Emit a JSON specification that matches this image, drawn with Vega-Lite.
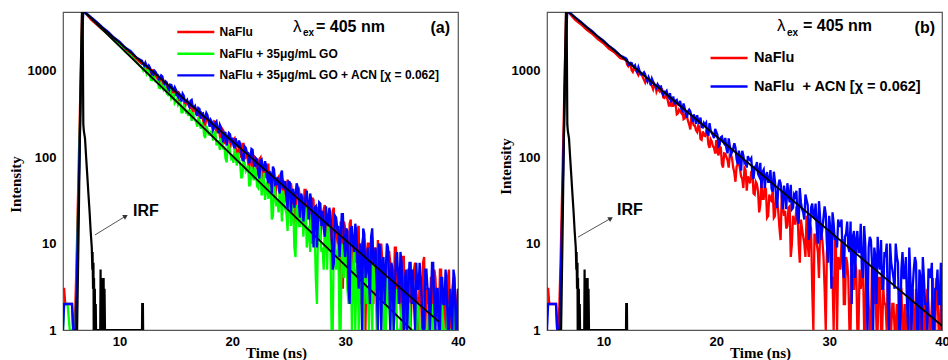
{
"$schema":"https://vega.github.io/schema/vega-lite/v6.json",
"background":"white",
"padding":{"left":7,"top":11,"right":0,"bottom":0},
"bounds":"flush",
"spacing":89,
"config":{"view":{"stroke":"#555","strokeWidth":1.2},"axis":{"grid":false,"domain":false,"ticks":false,"tickSize":0,"labelFont":"Liberation Sans","labelFontWeight":"bold","labelFontSize":13,"labelColor":"#000","labelFlush":false,"labelOverlap":false,"titleFont":"Liberation Serif","titleFontWeight":"bold","titleFontSize":15,"titleColor":"#000"}},
"datasets":{
"a":[
{"t":5.0,"r":3,"g":1,"b":1},{"t":5.1,"r":3,"g":2,"b":2},{"t":5.2,"r":2,"g":2,"b":2},{"t":5.4,"r":2,"g":2,"b":2},{"t":5.6,"r":2,"g":1,"b":2},{"t":5.8,"r":2,"g":1,"b":2},{"t":5.9,"r":1,"g":1,"b":1},{"t":6.0,"r":1,"g":1,"b":1},{"t":6.1,"r":2,"g":1,"b":1},{"t":6.2,"r":6,"g":4,"b":3},{"t":6.3,"r":23,"g":15,"b":12},{"t":6.4,"r":90,"g":60,"b":47},{"t":6.5,"r":350,"g":230,"b":180},{"t":6.6,"r":1350,"g":900,"b":700},{"t":6.7,"r":4800,"g":3500,"b":2700},{"t":6.8,"r":4900,"g":4900,"b":4900},{"t":6.9,"r":4800,"g":4800,"b":4850},{"t":7.0,"r":4650,"g":4700,"b":4720},
{"t":7.5,"r":3900,"g":4090,"b":4150},{"t":8.0,"r":3430,"g":3560,"b":3670},{"t":8.5,"r":3010,"g":3040,"b":3180},{"t":9.0,"r":2640,"g":2660,"b":2830},{"t":9.5,"r":2300,"g":2260,"b":2430},{"t":10.0,"r":2030,"g":1990,"b":2180},{"t":10.5,"r":1770,"g":1680,"b":1860},{"t":11.0,"r":1560,"g":1490,"b":1690},{"t":11.5,"r":1370,"g":1255,"b":1430},
{"t":12.0,"r":1201,"g":1084,"b":1310},{"t":12.2,"r":1215,"g":1117,"b":1151},{"t":12.4,"r":1039,"g":931,"b":1154},{"t":12.6,"r":1042,"g":943,"b":1154},{"t":12.8,"r":912,"g":784,"b":1002},
{"t":13.0,"r":1010,"g":870,"b":900},{"t":13.2,"r":863,"g":754,"b":971},{"t":13.4,"r":790,"g":759,"b":896},{"t":13.6,"r":829,"g":632,"b":823},{"t":13.8,"r":673,"g":650,"b":865},
{"t":14.0,"r":731,"g":668,"b":713},{"t":14.2,"r":670,"g":548,"b":733},{"t":14.4,"r":686,"g":558,"b":603},{"t":14.6,"r":550,"g":471,"b":687},{"t":14.8,"r":581,"g":548,"b":593},
{"t":15.0,"r":525,"g":449,"b":606},{"t":15.2,"r":571,"g":403,"b":501},{"t":15.4,"r":455,"g":437,"b":523},{"t":15.6,"r":491,"g":331,"b":544},{"t":15.8,"r":374,"g":377,"b":443},
{"t":16.0,"r":433,"g":340,"b":458},{"t":16.2,"r":386,"g":355,"b":384},{"t":16.4,"r":409,"g":264,"b":460},{"t":16.6,"r":376,"g":291,"b":374},{"t":16.8,"r":307,"g":256,"b":335},
{"t":17.0,"r":325,"g":292,"b":370},{"t":17.2,"r":341,"g":215,"b":279},{"t":17.4,"r":274,"g":245,"b":323},{"t":17.6,"r":233,"g":167,"b":291},{"t":17.8,"r":282,"g":211,"b":308},
{"t":18.0,"r":254,"g":182,"b":226},{"t":18.2,"r":227,"g":200,"b":255},{"t":18.4,"r":260,"g":179,"b":224},{"t":18.6,"r":190,"g":137,"b":260},{"t":18.8,"r":210,"g":152,"b":189},
{"t":19.0,"r":152,"g":166,"b":220},{"t":19.2,"r":204,"g":123,"b":149},{"t":19.4,"r":162,"g":97,"b":191},{"t":19.6,"r":177,"g":133,"b":165},{"t":19.8,"r":127,"g":116,"b":184},
{"t":20.0,"r":148,"g":101,"b":168},{"t":20.2,"r":165,"g":125,"b":127},{"t":20.4,"r":118,"g":80,"b":142},{"t":20.6,"r":131,"g":95,"b":156},{"t":20.8,"r":98,"g":57,"b":116},
{"t":21.0,"r":143,"g":95,"b":92},{"t":21.2,"r":103,"g":69,"b":128},{"t":21.4,"r":88,"g":80,"b":112},{"t":21.6,"r":111,"g":49,"b":98},{"t":21.8,"r":65,"g":63,"b":122},
{"t":22.0,"r":94,"g":76,"b":78},{"t":22.2,"r":82,"g":46,"b":94},{"t":22.4,"r":95,"g":57,"b":57},{"t":22.6,"r":54,"g":36,"b":94},{"t":22.8,"r":73,"g":66,"b":69},
{"t":23.0,"r":60,"g":42,"b":80},{"t":23.2,"r":82,"g":33,"b":50},{"t":23.4,"r":48,"g":49,"b":64},{"t":23.6,"r":66,"g":21,"b":78},{"t":23.8,"r":31,"g":40,"b":48},
{"t":24.0,"r":56,"g":33,"b":59},{"t":24.2,"r":45,"g":42,"b":38},{"t":24.4,"r":57,"g":18,"b":70},{"t":24.6,"r":50,"g":30,"b":44},{"t":24.8,"r":30,"g":22,"b":35},
{"t":25.0,"r":41,"g":37,"b":52},{"t":25.2,"r":50,"g":16,"b":23},{"t":25.4,"r":30,"g":28,"b":43},{"t":25.6,"r":19,"g":7,"b":36},{"t":25.8,"r":40,"g":23,"b":45},
{"t":26.0,"r":34,"g":16,"b":20},{"t":26.2,"r":28,"g":25,"b":34},{"t":26.4,"r":42,"g":21,"b":26},{"t":26.6,"r":19,"g":9,"b":41},{"t":26.8,"r":29,"g":16,"b":19},
{"t":27.0,"r":10,"g":22,"b":32},{"t":27.2,"r":32,"g":10,"b":9},{"t":27.4,"r":19,"g":4,"b":27},{"t":27.6,"r":26,"g":16,"b":20},{"t":27.8,"r":11,"g":13,"b":29},
{"t":28.0,"r":19,"g":9,"b":24},{"t":28.2,"r":28,"g":18,"b":12},{"t":28.4,"r":12,"g":5,"b":19},{"t":28.6,"r":19,"g":11,"b":26},{"t":28.8,"r":8,"g":1,"b":13},
{"t":29.0,"r":26,"g":13,"b":6},{"t":29.2,"r":13,"g":5,"b":20},{"t":29.4,"r":9,"g":10,"b":16},{"t":29.6,"r":18,"g":1,"b":12},{"t":29.8,"r":3,"g":7,"b":22},
{"t":30.0,"r":15,"g":11,"b":7},{"t":30.2,"r":11,"g":3,"b":14},{"t":30.4,"r":17,"g":7,"b":2},{"t":30.6,"r":3,"g":1,"b":16},{"t":30.8,"r":11,"g":10,"b":8},
{"t":31.0,"r":7,"g":4,"b":13},{"t":31.2,"r":16,"g":1,"b":3},{"t":31.4,"r":4,"g":7,"b":9},{"t":31.6,"r":12,"g":1,"b":15},{"t":31.8,"r":1,"g":5,"b":4},
{"t":32.0,"r":10,"g":3,"b":9},{"t":32.2,"r":6,"g":6,"b":2},{"t":32.4,"r":12,"g":1,"b":15},{"t":32.6,"r":9,"g":3,"b":6},{"t":32.8,"r":3,"g":1,"b":3},
{"t":33.0,"r":6,"g":5,"b":10},{"t":33.2,"r":10,"g":1,"b":1},{"t":33.4,"r":4,"g":4,"b":7},{"t":33.6,"r":1,"g":1,"b":5},{"t":33.8,"r":8,"g":3,"b":9},
{"t":34.0,"r":6,"g":1,"b":1},{"t":34.2,"r":4,"g":3,"b":5},{"t":34.4,"r":9,"g":2,"b":3},{"t":34.6,"r":2,"g":1,"b":8},{"t":34.8,"r":5,"g":1,"b":2},
{"t":35.0,"r":1,"g":2,"b":6},{"t":35.2,"r":7,"g":1,"b":1},{"t":35.4,"r":3,"g":1,"b":5},{"t":35.6,"r":5,"g":2,"b":3},{"t":35.8,"r":1,"g":1,"b":6},
{"t":36.0,"r":3,"g":1,"b":5},{"t":36.2,"r":6,"g":1,"b":1},{"t":36.4,"r":2,"g":2,"b":3},{"t":36.6,"r":4,"g":1,"b":6},{"t":36.8,"r":1,"g":1,"b":2},
{"t":37.0,"r":7,"g":1,"b":1},{"t":37.2,"r":3,"g":1,"b":5},{"t":37.4,"r":1,"g":2,"b":3},{"t":37.6,"r":4,"g":1,"b":2},{"t":37.8,"r":1,"g":1,"b":6},
{"t":38.0,"r":4,"g":1,"b":1},{"t":38.2,"r":2,"g":1,"b":3},{"t":38.4,"r":5,"g":1,"b":1},{"t":38.6,"r":1,"g":2,"b":4},{"t":38.8,"r":3,"g":1,"b":2},
{"t":39.0,"r":1,"g":1,"b":3},{"t":39.2,"r":5,"g":1,"b":1},{"t":39.4,"r":1,"g":1,"b":2},{"t":39.6,"r":4,"g":2,"b":5},{"t":39.8,"r":1,"g":1,"b":1},
{"t":40.0,"r":3,"g":1,"b":3},
{"t":12.1,"r":1215,"g":1014,"b":1203},{"t":12.3,"r":1089,"g":1024,"b":1243},{"t":12.5,"r":985,"g":1019,"b":1103},{"t":12.7,"r":1020,"g":881,"b":1097},{"t":12.9,"r":1018,"g":781,"b":918},
{"t":13.1,"r":857,"g":827,"b":1001},{"t":13.3,"r":861,"g":752,"b":912},{"t":13.5,"r":725,"g":638,"b":804},{"t":13.7,"r":792,"g":712,"b":886},{"t":13.9,"r":774,"g":608,"b":749},
{"t":14.1,"r":671,"g":617,"b":756},{"t":14.3,"r":609,"g":527,"b":633},{"t":14.5,"r":685,"g":591,"b":691},{"t":14.7,"r":588,"g":486,"b":622},{"t":14.9,"r":530,"g":426,"b":645},
{"t":15.1,"r":577,"g":472,"b":529},{"t":15.3,"r":447,"g":425,"b":546},{"t":15.5,"r":490,"g":331,"b":440},{"t":15.7,"r":478,"g":410,"b":516},{"t":15.9,"r":424,"g":331,"b":437},
{"t":16.1,"r":435,"g":301,"b":410},{"t":16.3,"r":375,"g":322,"b":449},{"t":16.5,"r":327,"g":333,"b":382},{"t":16.7,"r":361,"g":271,"b":391},{"t":16.9,"r":375,"g":226,"b":300},
{"t":17.1,"r":290,"g":264,"b":360},{"t":17.3,"r":304,"g":234,"b":320},{"t":17.5,"r":235,"g":180,"b":268},{"t":17.7,"r":283,"g":231,"b":326},{"t":17.9,"r":281,"g":183,"b":256},
{"t":18.1,"r":230,"g":198,"b":269},{"t":18.3,"r":203,"g":156,"b":207},{"t":18.5,"r":256,"g":199,"b":249},{"t":18.7,"r":205,"g":147,"b":216},{"t":18.9,"r":177,"g":122,"b":237},
{"t":19.1,"r":213,"g":154,"b":177},{"t":19.3,"r":142,"g":133,"b":193},{"t":19.5,"r":173,"g":87,"b":136},{"t":19.7,"r":174,"g":137,"b":190},{"t":19.9,"r":146,"g":97,"b":148},
{"t":20.1,"r":159,"g":86,"b":138},{"t":20.3,"r":128,"g":102,"b":166},{"t":20.5,"r":104,"g":113,"b":130},{"t":20.7,"r":129,"g":82,"b":142},{"t":20.9,"r":143,"g":61,"b":93},
{"t":21.1,"r":95,"g":86,"b":133},{"t":21.3,"r":107,"g":73,"b":113},{"t":21.5,"r":70,"g":46,"b":85},{"t":21.7,"r":103,"g":78,"b":125},{"t":21.9,"r":105,"g":54,"b":86},
{"t":22.1,"r":78,"g":65,"b":97},{"t":22.3,"r":65,"g":44,"b":63},{"t":22.5,"r":99,"g":70,"b":91},{"t":22.7,"r":71,"g":44,"b":75},{"t":22.9,"r":59,"g":32,"b":90},
{"t":23.1,"r":82,"g":52,"b":57},{"t":23.3,"r":41,"g":42,"b":69},{"t":23.5,"r":63,"g":19,"b":38},{"t":23.7,"r":64,"g":48,"b":72},{"t":23.9,"r":51,"g":27,"b":49},
{"t":24.1,"r":59,"g":23,"b":45},{"t":24.3,"r":44,"g":34,"b":64},{"t":24.5,"r":32,"g":41,"b":45},{"t":24.7,"r":47,"g":25,"b":53},{"t":24.9,"r":55,"g":14,"b":25},
{"t":25.1,"r":31,"g":30,"b":51},{"t":25.3,"r":39,"g":23,"b":40},{"t":25.5,"r":18,"g":9,"b":26},{"t":25.7,"r":38,"g":28,"b":50},{"t":25.9,"r":42,"g":16,"b":29},
{"t":26.1,"r":27,"g":22,"b":38},{"t":26.3,"r":20,"g":12,"b":18},{"t":26.5,"r":42,"g":27,"b":36},{"t":26.7,"r":26,"g":13,"b":28},{"t":26.9,"r":19,"g":8,"b":38},
{"t":27.1,"r":34,"g":19,"b":18},{"t":27.3,"r":11,"g":14,"b":26},{"t":27.5,"r":24,"g":2,"b":9},{"t":27.7,"r":26,"g":18,"b":30},{"t":27.9,"r":18,"g":8,"b":16},
{"t":28.1,"r":25,"g":5,"b":15},{"t":28.3,"r":15,"g":12,"b":27},{"t":28.5,"r":9,"g":16,"b":16},{"t":28.7,"r":19,"g":8,"b":21},{"t":28.9,"r":24,"g":1,"b":5},
{"t":29.1,"r":9,"g":11,"b":21},{"t":29.3,"r":15,"g":7,"b":15},{"t":29.5,"r":3,"g":1,"b":7},{"t":29.7,"r":16,"g":10,"b":22},{"t":29.9,"r":18,"g":4,"b":10},
{"t":30.1,"r":9,"g":8,"b":15},{"t":30.3,"r":5,"g":2,"b":3},{"t":30.5,"r":19,"g":10,"b":15},{"t":30.7,"r":10,"g":4,"b":10},{"t":30.9,"r":6,"g":1,"b":17},
{"t":31.1,"r":15,"g":7,"b":5},{"t":31.3,"r":2,"g":5,"b":10},{"t":31.5,"r":10,"g":1,"b":1},{"t":31.7,"r":11,"g":7,"b":13},{"t":31.9,"r":7,"g":2,"b":5},
{"t":32.1,"r":10,"g":1,"b":4},{"t":32.3,"r":6,"g":4,"b":12},{"t":32.5,"r":2,"g":6,"b":6},{"t":32.7,"r":8,"g":3,"b":9},{"t":32.9,"r":11,"g":1,"b":1},
{"t":33.1,"r":3,"g":4,"b":9},{"t":33.3,"r":6,"g":3,"b":6},{"t":33.5,"r":1,"g":1,"b":2},{"t":33.7,"r":7,"g":4,"b":10},{"t":33.9,"r":8,"g":2,"b":4},
{"t":34.1,"r":4,"g":2,"b":6},{"t":34.3,"r":2,"g":1,"b":1},{"t":34.5,"r":9,"g":3,"b":7},{"t":34.7,"r":4,"g":1,"b":4},{"t":34.9,"r":2,"g":1,"b":8},
{"t":35.1,"r":7,"g":2,"b":2},{"t":35.3,"r":1,"g":1,"b":4},{"t":35.5,"r":4,"g":1,"b":1},{"t":35.7,"r":5,"g":2,"b":6},{"t":35.9,"r":3,"g":1,"b":2},
{"t":36.1,"r":5,"g":1,"b":2},{"t":36.3,"r":3,"g":1,"b":6},{"t":36.5,"r":1,"g":2,"b":3},{"t":36.7,"r":4,"g":1,"b":4},{"t":36.9,"r":6,"g":1,"b":1},
{"t":37.1,"r":1,"g":1,"b":5},{"t":37.3,"r":3,"g":1,"b":3},{"t":37.5,"r":1,"g":1,"b":1},{"t":37.7,"r":4,"g":2,"b":6},{"t":37.9,"r":5,"g":1,"b":2},
{"t":38.1,"r":2,"g":1,"b":3},{"t":38.3,"r":1,"g":1,"b":1},{"t":38.5,"r":5,"g":1,"b":4},{"t":38.7,"r":2,"g":1,"b":2},{"t":38.9,"r":1,"g":1,"b":5},
{"t":39.1,"r":4,"g":2,"b":1},{"t":39.3,"r":1,"g":1,"b":3},{"t":39.5,"r":3,"g":1,"b":1},{"t":39.7,"r":3,"g":1,"b":4},{"t":39.9,"r":2,"g":1,"b":1}
],
"b":[
{"t":5.0,"r":3,"b":1},{"t":5.1,"r":3,"b":2},{"t":5.2,"r":2,"b":2},{"t":5.4,"r":2,"b":2},{"t":5.6,"r":2,"b":2},{"t":5.8,"r":2,"b":2},{"t":5.9,"r":1,"b":1},{"t":6.0,"r":1,"b":1},{"t":6.1,"r":2,"b":1},{"t":6.2,"r":6,"b":3},{"t":6.3,"r":23,"b":12},{"t":6.4,"r":90,"b":47},{"t":6.5,"r":350,"b":180},{"t":6.6,"r":1350,"b":700},{"t":6.7,"r":4800,"b":2700},{"t":6.8,"r":4850,"b":4900},{"t":6.9,"r":4800,"b":4850},{"t":7.0,"r":4600,"b":4740},
{"t":7.5,"r":3890,"b":4170},{"t":8.0,"r":3460,"b":3700},{"t":8.5,"r":3010,"b":3230},{"t":9.0,"r":2690,"b":2880},{"t":9.5,"r":2330,"b":2500},{"t":10.0,"r":2090,"b":2240},{"t":10.5,"r":1800,"b":1940},{"t":11.0,"r":1625,"b":1740},{"t":11.5,"r":1400,"b":1500},
{"t":12.0,"r":1335,"b":1395},{"t":12.2,"r":1134,"b":1180},{"t":12.4,"r":1172,"b":1240},{"t":12.6,"r":971,"b":1149},{"t":12.8,"r":1044,"b":1157},
{"t":13.0,"r":953,"b":968},{"t":13.2,"r":973,"b":1000},{"t":13.4,"r":906,"b":915},{"t":13.6,"r":783,"b":963},{"t":13.8,"r":798,"b":802},
{"t":14.0,"r":808,"b":843},{"t":14.2,"r":692,"b":682},{"t":14.4,"r":615,"b":749},{"t":14.6,"r":681,"b":679},{"t":14.8,"r":627,"b":701},
{"t":15.0,"r":575,"b":652},{"t":15.2,"r":611,"b":555},{"t":15.4,"r":485,"b":572},{"t":15.6,"r":505,"b":585},{"t":15.8,"r":397,"b":490},
{"t":16.0,"r":471,"b":432},{"t":16.2,"r":395,"b":492},{"t":16.4,"r":407,"b":450},{"t":16.6,"r":323,"b":409},{"t":16.8,"r":342,"b":449},
{"t":17.0,"r":363,"b":349},{"t":17.2,"r":282,"b":372},{"t":17.4,"r":296,"b":288},{"t":17.6,"r":239,"b":356},{"t":17.8,"r":300,"b":297},
{"t":18.0,"r":234,"b":313},{"t":18.2,"r":205,"b":244},{"t":18.4,"r":234,"b":267},{"t":18.6,"r":163,"b":288},{"t":18.8,"r":199,"b":221},
{"t":19.0,"r":176,"b":237},{"t":19.2,"r":191,"b":190},{"t":19.4,"r":128,"b":248},{"t":19.6,"r":152,"b":191},{"t":19.8,"r":129,"b":167},
{"t":20.0,"r":158,"b":197},{"t":20.2,"r":105,"b":134},{"t":20.4,"r":129,"b":170},{"t":20.6,"r":76,"b":151},{"t":20.8,"r":110,"b":167},
{"t":21.0,"r":92,"b":111},{"t":21.2,"r":107,"b":134},{"t":21.4,"r":96,"b":115},{"t":21.6,"r":66,"b":145},{"t":21.8,"r":78,"b":95},
{"t":22.0,"r":89,"b":119},{"t":22.2,"r":60,"b":70},{"t":22.4,"r":44,"b":104},{"t":22.6,"r":71,"b":86},{"t":22.8,"r":60,"b":103},
{"t":23.0,"r":50,"b":92},{"t":23.2,"r":69,"b":64},{"t":23.4,"r":37,"b":77},{"t":23.6,"r":49,"b":88},{"t":23.8,"r":23,"b":60},
{"t":24.0,"r":51,"b":44},{"t":24.2,"r":33,"b":72},{"t":24.4,"r":42,"b":62},{"t":24.6,"r":21,"b":52},{"t":24.8,"r":32,"b":71},
{"t":25.0,"r":42,"b":40},{"t":25.2,"r":21,"b":52},{"t":25.4,"r":29,"b":26},{"t":25.6,"r":15,"b":55},{"t":25.8,"r":37,"b":36},
{"t":26.0,"r":21,"b":47},{"t":26.2,"r":15,"b":25},{"t":26.4,"r":26,"b":37},{"t":26.6,"r":7,"b":48},{"t":26.8,"r":21,"b":26},
{"t":27.0,"r":17,"b":35},{"t":27.2,"r":23,"b":19},{"t":27.4,"r":6,"b":44},{"t":27.6,"r":15,"b":25},{"t":27.8,"r":10,"b":19},
{"t":28.0,"r":21,"b":32},{"t":28.2,"r":7,"b":11},{"t":28.4,"r":15,"b":26},{"t":28.6,"r":1,"b":21},{"t":28.8,"r":12,"b":29},
{"t":29.0,"r":8,"b":10},{"t":29.2,"r":14,"b":20},{"t":29.4,"r":11,"b":15},{"t":29.6,"r":3,"b":27},{"t":29.8,"r":8,"b":10},
{"t":30.0,"r":13,"b":21},{"t":30.2,"r":4,"b":3},{"t":30.4,"r":1,"b":17},{"t":30.6,"r":9,"b":12},{"t":30.8,"r":7,"b":19},
{"t":31.0,"r":5,"b":16},{"t":31.2,"r":11,"b":6},{"t":31.4,"r":2,"b":12},{"t":31.6,"r":6,"b":18},{"t":31.8,"r":1,"b":8},
{"t":32.0,"r":7,"b":2},{"t":32.2,"r":3,"b":14},{"t":32.4,"r":5,"b":11},{"t":32.6,"r":1,"b":8},{"t":32.8,"r":3,"b":17},
{"t":33.0,"r":6,"b":4},{"t":33.2,"r":1,"b":10},{"t":33.4,"r":4,"b":1},{"t":33.6,"r":1,"b":12},{"t":33.8,"r":6,"b":6},
{"t":34.0,"r":2,"b":9},{"t":34.2,"r":1,"b":2},{"t":34.4,"r":4,"b":6},{"t":34.6,"r":1,"b":11},{"t":34.8,"r":3,"b":3},
{"t":35.0,"r":2,"b":7},{"t":35.2,"r":4,"b":2},{"t":35.4,"r":1,"b":10},{"t":35.6,"r":2,"b":5},{"t":35.8,"r":1,"b":3},
{"t":36.0,"r":2,"b":7},{"t":36.2,"r":1,"b":1},{"t":36.4,"r":3,"b":5},{"t":36.6,"r":1,"b":4},{"t":36.8,"r":1,"b":7},
{"t":37.0,"r":2,"b":1},{"t":37.2,"r":1,"b":4},{"t":37.4,"r":3,"b":3},{"t":37.6,"r":1,"b":7},{"t":37.8,"r":2,"b":1},
{"t":38.0,"r":1,"b":5},{"t":38.2,"r":1,"b":1},{"t":38.4,"r":3,"b":4},{"t":38.6,"r":1,"b":2},{"t":38.8,"r":2,"b":5},
{"t":39.0,"r":1,"b":4},{"t":39.2,"r":4,"b":1},{"t":39.4,"r":1,"b":3},{"t":39.6,"r":3,"b":5},{"t":39.8,"r":1,"b":2},
{"t":40.0,"r":2,"b":1},
{"t":12.1,"r":1186,"b":1333},{"t":12.3,"r":1208,"b":1173},{"t":12.5,"r":1015,"b":1233},{"t":12.7,"r":1070,"b":1112},{"t":12.9,"r":998,"b":1028},
{"t":13.1,"r":895,"b":1098},{"t":13.3,"r":964,"b":910},{"t":13.5,"r":836,"b":931},{"t":13.7,"r":731,"b":908},{"t":13.9,"r":804,"b":753},
{"t":14.1,"r":749,"b":786},{"t":14.3,"r":668,"b":807},{"t":14.5,"r":711,"b":686},{"t":14.7,"r":576,"b":639},{"t":14.9,"r":600,"b":668},
{"t":15.1,"r":612,"b":658},{"t":15.3,"r":491,"b":524},{"t":15.5,"r":516,"b":561},{"t":15.7,"r":453,"b":510},{"t":15.9,"r":397,"b":553},
{"t":16.1,"r":393,"b":491},{"t":16.3,"r":417,"b":410},{"t":16.5,"r":315,"b":461},{"t":16.7,"r":357,"b":402},{"t":16.9,"r":326,"b":364},
{"t":17.1,"r":276,"b":419},{"t":17.3,"r":326,"b":317},{"t":17.5,"r":261,"b":341},{"t":17.7,"r":210,"b":339},{"t":17.9,"r":258,"b":256},
{"t":18.1,"r":234,"b":286},{"t":18.3,"r":196,"b":307},{"t":18.5,"r":226,"b":243},{"t":18.7,"r":159,"b":224},{"t":18.9,"r":179,"b":249},
{"t":19.1,"r":199,"b":250},{"t":19.3,"r":141,"b":177},{"t":19.5,"r":161,"b":205},{"t":19.7,"r":134,"b":181},{"t":19.9,"r":110,"b":213},
{"t":20.1,"r":114,"b":182},{"t":20.3,"r":132,"b":139},{"t":20.5,"r":83,"b":174},{"t":20.7,"r":111,"b":144},{"t":20.9,"r":100,"b":126},
{"t":21.1,"r":76,"b":165},{"t":21.3,"r":108,"b":108},{"t":21.5,"r":76,"b":127},{"t":21.7,"r":52,"b":129},{"t":21.9,"r":83,"b":83},
{"t":22.1,"r":73,"b":103},{"t":22.3,"r":56,"b":119},{"t":22.5,"r":75,"b":85},{"t":22.7,"r":41,"b":76},{"t":22.9,"r":54,"b":95},
{"t":23.1,"r":68,"b":97},{"t":23.3,"r":38,"b":56},{"t":23.5,"r":52,"b":76},{"t":23.7,"r":40,"b":64},{"t":23.9,"r":28,"b":86},
{"t":24.1,"r":33,"b":68},{"t":24.3,"r":46,"b":44},{"t":24.5,"r":20,"b":67},{"t":24.7,"r":37,"b":52},{"t":24.9,"r":31,"b":43},
{"t":25.1,"r":20,"b":68},{"t":25.3,"r":38,"b":35},{"t":25.5,"r":23,"b":47},{"t":25.7,"r":11,"b":50},{"t":25.9,"r":28,"b":25},
{"t":26.1,"r":24,"b":38},{"t":26.3,"r":16,"b":50},{"t":26.5,"r":27,"b":30},{"t":26.7,"r":10,"b":25},{"t":26.9,"r":17,"b":37},
{"t":27.1,"r":27,"b":41},{"t":27.3,"r":10,"b":17},{"t":27.5,"r":19,"b":30},{"t":27.7,"r":12,"b":23},{"t":27.9,"r":7,"b":37},
{"t":28.1,"r":10,"b":28},{"t":28.3,"r":17,"b":14},{"t":28.5,"r":3,"b":29},{"t":28.7,"r":13,"b":20},{"t":28.9,"r":10,"b":15},
{"t":29.1,"r":4,"b":31},{"t":29.3,"r":15,"b":11},{"t":29.5,"r":7,"b":20},{"t":29.7,"r":1,"b":22},{"t":29.9,"r":11,"b":6},
{"t":30.1,"r":9,"b":15},{"t":30.3,"r":4,"b":23},{"t":30.5,"r":11,"b":11},{"t":30.7,"r":1,"b":9},{"t":30.9,"r":6,"b":16},
{"t":31.1,"r":11,"b":19},{"t":31.3,"r":2,"b":4},{"t":31.5,"r":7,"b":13},{"t":31.7,"r":4,"b":9},{"t":31.9,"r":1,"b":18},
{"t":32.1,"r":3,"b":12},{"t":32.3,"r":6,"b":4},{"t":32.5,"r":1,"b":14},{"t":32.7,"r":5,"b":8},{"t":32.9,"r":4,"b":5},
{"t":33.1,"r":1,"b":16},{"t":33.3,"r":6,"b":3},{"t":33.5,"r":2,"b":9},{"t":33.7,"r":1,"b":11},{"t":33.9,"r":4,"b":1},
{"t":34.1,"r":3,"b":7},{"t":34.3,"r":1,"b":12},{"t":34.5,"r":4,"b":5},{"t":34.7,"r":1,"b":3},{"t":34.9,"r":2,"b":8},
{"t":35.1,"r":1,"b":10},{"t":35.3,"r":3,"b":1},{"t":35.5,"r":1,"b":6},{"t":35.7,"r":2,"b":4},{"t":35.9,"r":1,"b":10},
{"t":36.1,"r":1,"b":6},{"t":36.3,"r":3,"b":1},{"t":36.5,"r":1,"b":8},{"t":36.7,"r":2,"b":4},{"t":36.9,"r":1,"b":2},
{"t":37.1,"r":1,"b":9},{"t":37.3,"r":2,"b":1},{"t":37.5,"r":1,"b":5},{"t":37.7,"r":3,"b":6},{"t":37.9,"r":1,"b":1},
{"t":38.1,"r":2,"b":4},{"t":38.3,"r":1,"b":7},{"t":38.5,"r":1,"b":2},{"t":38.7,"r":3,"b":1},{"t":38.9,"r":1,"b":5},
{"t":39.1,"r":2,"b":6},{"t":39.3,"r":1,"b":1},{"t":39.5,"r":4,"b":3},{"t":39.7,"r":1,"b":2},{"t":39.9,"r":2,"b":6}
],
"irf":[
{"t":6.0,"v":1},{"t":6.25,"v":1},{"t":6.4,"v":20},{"t":6.55,"v":600},{"t":6.68,"v":4900},{"t":6.74,"v":4900},{"t":6.8,"v":240},{"t":6.85,"v":200},{"t":6.95,"v":165},{"t":7.05,"v":100},{"t":7.15,"v":62},{"t":7.25,"v":38},{"t":7.35,"v":24},{"t":7.45,"v":14},{"t":7.55,"v":9},{"t":7.6,"v":5},{"t":7.62,"v":8},{"t":7.66,"v":3},{"t":7.7,"v":6},{"t":7.72,"v":1},{"t":7.75,"v":4},{"t":7.78,"v":1},{"t":7.82,"v":3},{"t":7.85,"v":1},{"t":7.9,"v":2},{"t":7.93,"v":1},{"t":8.3,"v":1},{"t":8.33,"v":5},{"t":8.36,"v":1},{"t":8.4,"v":4},{"t":8.43,"v":1},{"t":8.5,"v":3},{"t":8.55,"v":1},{"t":8.6,"v":4},{"t":8.63,"v":1},{"t":8.68,"v":3},{"t":8.72,"v":1},{"t":12.0,"v":1},{"t":12.02,"v":2},{"t":12.08,"v":2},{"t":12.1,"v":1}
],
"fits":[
{"t":6.9,"v":4800,"f":"a1"},{"t":38.3,"v":1.25,"f":"a1"},
{"t":6.9,"v":4800,"f":"a2"},{"t":35.9,"v":1,"f":"a2"},
{"t":6.9,"v":4800,"f":"b"},{"t":40,"v":1.12,"f":"b"}
],
"one":[{"n":1}]
},
"hconcat":[
{
"width":395,"height":318,
"layer":[
{"data":{"name":"a"},"mark":{"type":"line","strokeWidth":2.3,"clip":true},"encoding":{"x":{"field":"t","type":"quantitative","title":"Time (ns)","scale":{"domain":[5,40],"nice":false,"zero":false},"axis":{"values":[10,20,30,40],"labelPadding":5,"titleX":213,"titleY":27,"titleBaseline":"alphabetic","titleAlign":"center","titleAnchor":null}},"y":{"field":"r","type":"quantitative","title":"Intensity","scale":{"type":"log","domain":[1,4800],"nice":false},"axis":{"values":[1,10,100,1000],"format":"d","labelPadding":7,"titleX":-48,"titleY":172,"titleAngle":270,"titleBaseline":"middle","titleAlign":"center"}},"color":{"datum":"NaFlu","type":"nominal","scale":{"domain":["NaFlu","NaFlu + 35μg/mL GO","NaFlu + 35μg/mL GO + ACN [χ = 0.062]"],"range":["#ff0000","#00ff00","#0000ff"]},"legend":{"orient":"none","legendX":108.3,"legendY":14,"title":null,"padding":0,"symbolType":"M0,0H10","symbolSize":54.8,"symbolStrokeWidth":2.4,"labelFont":"Liberation Sans","labelFontWeight":"bold","labelFontSize":12,"labelColor":"#000","labelOffset":36.3,"rowPadding":9.7,"labelLimit":400}}}},
{"data":{"name":"a"},"mark":{"type":"line","strokeWidth":2.3,"clip":true},"encoding":{"x":{"field":"t","type":"quantitative","title":"Time (ns)"},"y":{"field":"g","type":"quantitative","title":"Intensity"},"color":{"datum":"NaFlu + 35μg/mL GO","type":"nominal"}}},
{"data":{"name":"fits"},"transform":[{"filter":"datum.f == 'a2'"}],"mark":{"type":"line","strokeWidth":1.8,"color":"#000","clip":true},"encoding":{"x":{"field":"t","type":"quantitative","title":"Time (ns)"},"y":{"field":"v","type":"quantitative","title":"Intensity"}}},
{"data":{"name":"a"},"mark":{"type":"line","strokeWidth":2.3,"clip":true},"encoding":{"x":{"field":"t","type":"quantitative","title":"Time (ns)"},"y":{"field":"b","type":"quantitative","title":"Intensity"},"color":{"datum":"NaFlu + 35μg/mL GO + ACN [χ = 0.062]","type":"nominal"}}},
{"data":{"name":"fits"},"transform":[{"filter":"datum.f == 'a1'"}],"mark":{"type":"line","strokeWidth":1.8,"color":"#000","clip":true},"encoding":{"x":{"field":"t","type":"quantitative","title":"Time (ns)"},"y":{"field":"v","type":"quantitative","title":"Intensity"}}},
{"data":{"name":"irf"},"mark":{"type":"line","strokeWidth":2.2,"color":"#000","clip":true},"encoding":{"x":{"field":"t","type":"quantitative","title":"Time (ns)"},"y":{"field":"v","type":"quantitative","title":"Intensity"}}},
{"data":{"name":"one"},"mark":{"type":"rule","color":"#555","strokeWidth":1},"encoding":{"x":{"datum":7.83,"type":"quantitative"},"y":{"datum":12.6,"type":"quantitative"},"x2":{"datum":10.55},"y2":{"datum":20.8}}},
{"data":{"name":"one"},"mark":{"type":"point","shape":"triangle-up","angle":59,"size":30,"filled":true,"color":"#333","opacity":1},"encoding":{"x":{"datum":10.55,"type":"quantitative"},"y":{"datum":20.8,"type":"quantitative"}}},
{"data":{"name":"one"},"mark":{"type":"text","text":"IRF","font":"Liberation Sans","fontWeight":"bold","fontSize":16,"align":"left","baseline":"middle","color":"#000"},"encoding":{"x":{"datum":11.2,"type":"quantitative"},"y":{"datum":23.9,"type":"quantitative"}}},
{"data":{"name":"one"},"mark":{"type":"text","text":"λ","font":"Liberation Sans","fontSize":17,"align":"left","baseline":"alphabetic","color":"#000"},"encoding":{"x":{"datum":25.38,"type":"quantitative"},"y":{"datum":2812,"type":"quantitative"}}},
{"data":{"name":"one"},"mark":{"type":"text","text":"ex","font":"Liberation Sans","fontWeight":"bold","fontSize":10,"align":"left","baseline":"alphabetic","color":"#000"},"encoding":{"x":{"datum":26.27,"type":"quantitative"},"y":{"datum":2528,"type":"quantitative"}}},
{"data":{"name":"one"},"mark":{"type":"text","text":"= 405 nm","font":"Liberation Sans","fontWeight":"bold","fontSize":16,"align":"left","baseline":"alphabetic","color":"#000"},"encoding":{"x":{"datum":27.42,"type":"quantitative"},"y":{"datum":2812,"type":"quantitative"}}},
{"data":{"name":"one"},"mark":{"type":"text","text":"(a)","font":"Liberation Sans","fontWeight":"bold","fontSize":16,"align":"right","baseline":"alphabetic","color":"#000"},"encoding":{"x":{"datum":39.29,"type":"quantitative"},"y":{"datum":2738,"type":"quantitative"}}}
]
},
{
"width":395,"height":318,
"layer":[
{"data":{"name":"b"},"mark":{"type":"line","strokeWidth":2.3,"clip":true},"encoding":{"x":{"field":"t","type":"quantitative","title":"Time (ns)","scale":{"domain":[5,40],"nice":false,"zero":false},"axis":{"values":[10,20,30,40],"labelPadding":5,"titleX":213,"titleY":27,"titleBaseline":"alphabetic","titleAlign":"center","titleAnchor":null}},"y":{"field":"r","type":"quantitative","title":"Intensity","scale":{"type":"log","domain":[1,4800],"nice":false},"axis":{"values":[1,10,100,1000],"format":"d","labelPadding":7,"titleX":-42,"titleY":154,"titleAngle":270,"titleBaseline":"middle","titleAlign":"center"}},"color":{"datum":"NaFlu","type":"nominal","scale":{"domain":["NaFlu","NaFlu\u00a0 + ACN [χ = 0.062]"],"range":["#ff0000","#0000ff"]},"legend":{"orient":"none","legendX":156.3,"legendY":38.75,"title":null,"padding":0,"symbolType":"M0,0H10","symbolSize":54.8,"symbolStrokeWidth":2.4,"labelFont":"Liberation Sans","labelFontWeight":"bold","labelFontSize":14.5,"labelColor":"#000","labelOffset":36.3,"rowPadding":13.5,"labelLimit":400}}}},
{"data":{"name":"b"},"mark":{"type":"line","strokeWidth":2.3,"clip":true},"encoding":{"x":{"field":"t","type":"quantitative","title":"Time (ns)"},"y":{"field":"b","type":"quantitative","title":"Intensity"},"color":{"datum":"NaFlu\u00a0 + ACN [χ = 0.062]","type":"nominal"}}},
{"data":{"name":"fits"},"transform":[{"filter":"datum.f == 'b'"}],"mark":{"type":"line","strokeWidth":1.8,"color":"#000","clip":true},"encoding":{"x":{"field":"t","type":"quantitative","title":"Time (ns)"},"y":{"field":"v","type":"quantitative","title":"Intensity"}}},
{"data":{"name":"irf"},"mark":{"type":"line","strokeWidth":2.2,"color":"#000","clip":true},"encoding":{"x":{"field":"t","type":"quantitative","title":"Time (ns)"},"y":{"field":"v","type":"quantitative","title":"Intensity"}}},
{"data":{"name":"one"},"mark":{"type":"rule","color":"#555","strokeWidth":1},"encoding":{"x":{"datum":7.75,"type":"quantitative"},"y":{"datum":11.9,"type":"quantitative"},"x2":{"datum":10.65},"y2":{"datum":19.6}}},
{"data":{"name":"one"},"mark":{"type":"point","shape":"triangle-up","angle":60,"size":30,"filled":true,"color":"#333","opacity":1},"encoding":{"x":{"datum":10.65,"type":"quantitative"},"y":{"datum":19.6,"type":"quantitative"}}},
{"data":{"name":"one"},"mark":{"type":"text","text":"IRF","font":"Liberation Sans","fontWeight":"bold","fontSize":16,"align":"left","baseline":"middle","color":"#000"},"encoding":{"x":{"datum":11.2,"type":"quantitative"},"y":{"datum":24.5,"type":"quantitative"}}},
{"data":{"name":"one"},"mark":{"type":"text","text":"λ","font":"Liberation Sans","fontSize":17,"align":"left","baseline":"alphabetic","color":"#000"},"encoding":{"x":{"datum":25.38,"type":"quantitative"},"y":{"datum":2890,"type":"quantitative"}}},
{"data":{"name":"one"},"mark":{"type":"text","text":"ex","font":"Liberation Sans","fontWeight":"bold","fontSize":10,"align":"left","baseline":"alphabetic","color":"#000"},"encoding":{"x":{"datum":26.27,"type":"quantitative"},"y":{"datum":2528,"type":"quantitative"}}},
{"data":{"name":"one"},"mark":{"type":"text","text":"= 405 nm","font":"Liberation Sans","fontWeight":"bold","fontSize":16,"align":"left","baseline":"alphabetic","color":"#000"},"encoding":{"x":{"datum":27.68,"type":"quantitative"},"y":{"datum":2890,"type":"quantitative"}}},
{"data":{"name":"one"},"mark":{"type":"text","text":"(b)","font":"Liberation Sans","fontWeight":"bold","fontSize":16,"align":"right","baseline":"alphabetic","color":"#000"},"encoding":{"x":{"datum":39.38,"type":"quantitative"},"y":{"datum":2738,"type":"quantitative"}}}
]
}
],
"resolve":{"scale":{"color":"independent"},"legend":{"color":"independent"}}
}
